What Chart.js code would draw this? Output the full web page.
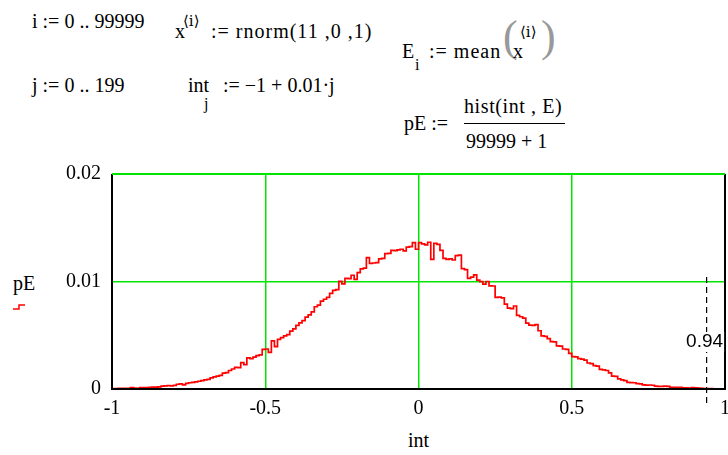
<!DOCTYPE html>
<html>
<head>
<meta charset="utf-8">
<script src="https://cdn.jsdelivr.net/npm/chart.js@4.4.1/dist/chart.umd.min.js"></script>
<style>
  html, body { margin: 0; padding: 0; background: #fff; }
  body { width: 728px; height: 455px; overflow: hidden; position: relative; font-family: "Liberation Serif", serif; color: #000; }
  #wrap { position: absolute; left: 0; top: 0; width: 740px; height: 455px; }
  .t { position: absolute; font-size: 20px; line-height: 20px; white-space: pre; }
  .s { position: absolute; font-size: 16px; line-height: 16px; white-space: pre; }
  .ang { position: absolute; font-size: 15px; line-height: 16px; white-space: pre; font-family: "DejaVu Serif", serif; }
  .paren { position: absolute; font-size: 44px; line-height: 44px; color: #999; }
  #bar { position: absolute; left: 464px; top: 123px; width: 101px; height: 1px; background: #000; }
</style>
</head>
<body>
<div class="t" style="left:32px;top:11px">i := 0 .. 99999</div>
<div class="t" style="left:175px;top:21px">x</div>
<div class="ang" style="left:183px;top:13px">⟨i⟩</div>
<div class="t" style="left:211px;top:21px;letter-spacing:1px">:= rnorm(11 ,0 ,1)</div>

<div class="t" style="left:32px;top:75px">j := 0 .. 199</div>
<div class="t" style="left:188px;top:75px">int</div>
<div class="s" style="left:204px;top:96px">j</div>
<div class="t" style="left:223px;top:75px">:= −1 + 0.01·j</div>

<div class="t" style="left:402px;top:41px">E</div>
<div class="s" style="left:415px;top:57px">i</div>
<div class="t" style="left:429px;top:41px;letter-spacing:1px">:= mean</div>
<div class="paren" style="left:503px;top:15px">(</div>
<div class="t" style="left:513px;top:41px">x</div>
<div class="ang" style="left:520px;top:24px">⟨i⟩</div>
<div class="paren" style="left:541px;top:15px">)</div>

<div class="t" style="left:404px;top:113px">pE :=</div>
<div class="t" style="left:464px;top:96px;letter-spacing:0.6px">hist(int , E)</div>
<div id="bar"></div>
<div class="t" style="left:466px;top:131px">99999 + 1</div>

<div class="t" style="left:13px;top:273px">pE</div>
<svg style="position:absolute;left:0;top:0" width="40" height="320">
  <polyline points="13,309 19,309 19,305 25,305" fill="none" stroke="#ff0000" stroke-width="1.5"/>
</svg>
<div class="t" style="left:408px;top:430px">int</div>

<div id="wrap"><canvas id="chart" width="740" height="455"></canvas></div>

<script>
// histogram of the means: pE_j for bins starting at int_j = -1 + 0.01 j
const pE = [
  0.00003, 0.00004, 0.00004, 0.00005, 0.00006, 0.00005, 0.00007, 0.00012, 0.00008, 0.00007,
  0.00012, 0.00013, 0.00012, 0.00016, 0.00017, 0.00018, 0.00020, 0.00027, 0.00029, 0.00031,
  0.00030, 0.00034, 0.00044, 0.00047, 0.00038, 0.00052, 0.00058, 0.00062, 0.00066, 0.00072,
  0.00078, 0.00084, 0.00090, 0.00104, 0.00112, 0.00120, 0.00126, 0.00148, 0.00152, 0.00172,
  0.00186, 0.00201, 0.00198, 0.00245, 0.00226, 0.00290, 0.00282, 0.00296, 0.00310, 0.00318,
  0.00368, 0.00372, 0.00340, 0.00448, 0.00395, 0.00462, 0.00478, 0.00494, 0.00505, 0.00538,
  0.00560, 0.00592, 0.00615, 0.00636, 0.00668, 0.00690, 0.00718, 0.00765, 0.00780, 0.00818,
  0.00835, 0.00852, 0.00890, 0.00918, 0.00925, 0.01002, 0.00978, 0.01030, 0.01026, 0.01058,
  0.01020, 0.01082, 0.01118, 0.01125, 0.01222, 0.01168, 0.01172, 0.01175, 0.01210, 0.01215,
  0.01260, 0.01262, 0.01290, 0.01288, 0.01295, 0.01300, 0.01285, 0.01320, 0.01325, 0.01362,
  0.01300, 0.01362, 0.01350, 0.01340, 0.01365, 0.01205, 0.01355, 0.01345, 0.01290, 0.01215,
  0.01205, 0.01210, 0.01200, 0.01240, 0.01245, 0.01120, 0.01110, 0.01030, 0.01040, 0.01062,
  0.01012, 0.00998, 0.00975, 0.01000, 0.00960, 0.00958, 0.00852, 0.00855, 0.00848, 0.00790,
  0.00752, 0.00748, 0.00772, 0.00685, 0.00672, 0.00660, 0.00612, 0.00595, 0.00592, 0.00598,
  0.00542, 0.00495, 0.00490, 0.00468, 0.00440, 0.00438, 0.00402, 0.00398, 0.00372, 0.00368,
  0.00332, 0.00302, 0.00298, 0.00282, 0.00278, 0.00268, 0.00242, 0.00236, 0.00218, 0.00212,
  0.00182, 0.00178, 0.00172, 0.00150, 0.00120, 0.00118, 0.00094, 0.00085, 0.00078, 0.00062,
  0.00060, 0.00058, 0.00050, 0.00048, 0.00038, 0.00036, 0.00037, 0.00035, 0.00026, 0.00025,
  0.00024, 0.00026, 0.00024, 0.00016, 0.00016, 0.00015, 0.00016, 0.00010, 0.00011, 0.00009,
  0.00012, 0.00011, 0.00008, 0.00005, 0.00004, 0.00004, 0.00003, 0.00002, 0.00002
];
// bin starts, as in the worksheet: int_j := -1 + 0.01 j
const binStart = pE.map((_, j) => -1 + 0.01 * j);

const xTicks = [-1, -0.5, 0, 0.5, 1];
const xTickLabels = ['-1', '-0.5', '0', '0.5', '1'];
const yTicks = [0, 0.01, 0.02];
const yTickLabels = ['0', '0.01', '0.02'];
const markerX = 0.94;

const green = 'rgb(0,230,0)';
const tickFont = { family: '"Liberation Serif", serif', size: 20 };

// black frame on top of the trace (left, bottom, right), like Mathcad draws it
const framePlugin = {
  id: 'frame',
  afterDatasetsDraw(chart) {
    const { ctx, chartArea: a } = chart;
    ctx.save();
    ctx.strokeStyle = '#000';
    ctx.lineWidth = 2;
    ctx.beginPath();
    ctx.moveTo(a.left, a.top);
    ctx.lineTo(a.left, a.bottom);
    ctx.lineTo(a.right, a.bottom);
    ctx.lineTo(a.right, a.top);
    ctx.stroke();
    ctx.strokeStyle = green;
    ctx.beginPath();
    ctx.moveTo(a.left, a.top);
    ctx.lineTo(a.right, a.top);
    ctx.stroke();
    ctx.restore();
  }
};

// x marker at 0.94
const markerPlugin = {
  id: 'marker',
  afterDraw(chart) {
    const { ctx, chartArea: a } = chart;
    const x = chart.scales.x.getPixelForValue(markerX);
    ctx.save();
    ctx.strokeStyle = '#000';
    ctx.lineWidth = 1.2;
    ctx.setLineDash([6, 4]);
    ctx.beginPath();
    ctx.moveTo(x, a.top + 103);
    ctx.lineTo(x, a.bottom + 18);
    ctx.stroke();
    ctx.setLineDash([]);
    ctx.font = '19px "Liberation Sans", sans-serif';
    ctx.textAlign = 'center';
    ctx.textBaseline = 'middle';
    const label = markerX.toFixed(2);
    const w = ctx.measureText(label).width;
    ctx.fillStyle = '#fff';
    ctx.fillRect(x - 2 - w / 2 - 1, a.top + 158, w + 2, 20);
    ctx.fillStyle = '#000';
    ctx.fillText(label, x - 2, a.top + 168);
    ctx.restore();
  }
};

new Chart(document.getElementById('chart'), {
  type: 'line',
  data: {
    datasets: [{
      label: 'pE',
      data: pE.map((v, j) => ({ x: binStart[j], y: v })),
      borderColor: '#ff0000',
      borderWidth: 1.7,
      pointRadius: 0,
      stepped: 'after',
      fill: false
    }]
  },
  options: {
    responsive: false,
    animation: false,
    events: [],
    layout: { padding: { left: 0, top: 174, right: 15, bottom: 0 } },
    plugins: { legend: { display: false }, tooltip: { enabled: false } },
    scales: {
      x: {
        type: 'linear',
        min: -1,
        max: 1,
        afterBuildTicks: s => { s.ticks = xTicks.map(v => ({ value: v })); },
        afterFit: s => { s.height = 66; },
        ticks: {
          font: tickFont,
          color: '#000',
          padding: 8,
          maxRotation: 0,
          autoSkip: false,
          callback: (v, i) => xTickLabels[i]
        },
        grid: { color: green, lineWidth: 1.5, drawTicks: false },
        border: { display: false }
      },
      y: {
        min: 0,
        max: 0.02,
        afterBuildTicks: s => { s.ticks = yTicks.map(v => ({ value: v })); },
        afterFit: s => { s.width = 112; },
        ticks: {
          font: tickFont,
          color: '#000',
          padding: 11,
          callback: (v, i) => yTickLabels[i]
        },
        grid: { color: green, lineWidth: 1.5, drawTicks: false },
        border: { display: false }
      }
    }
  },
  plugins: [framePlugin, markerPlugin]
});
</script>
</body>
</html>
